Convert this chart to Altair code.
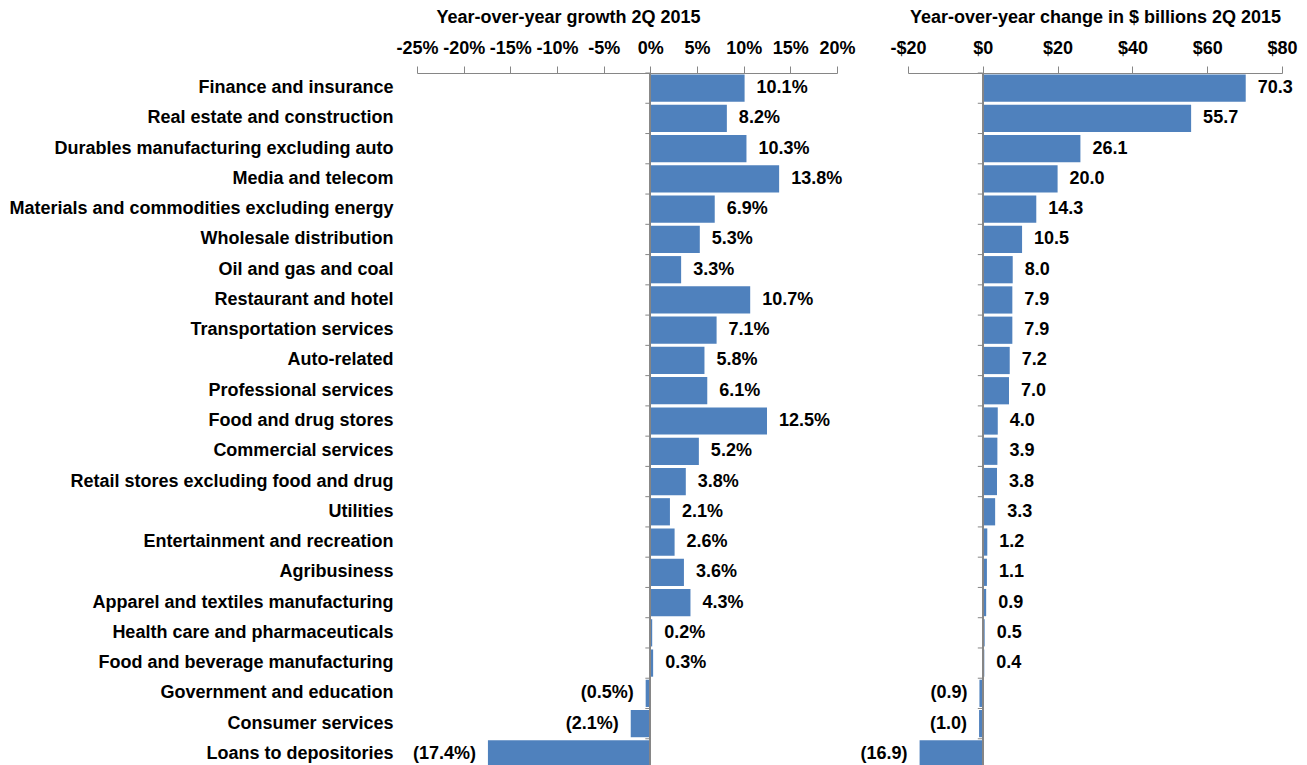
import altair as alt
import pandas as pd

categories = [
    "Finance and insurance",
    "Real estate and construction",
    "Durables manufacturing excluding auto",
    "Media and telecom",
    "Materials and commodities excluding energy",
    "Wholesale distribution",
    "Oil and gas and coal",
    "Restaurant and hotel",
    "Transportation services",
    "Auto-related",
    "Professional services",
    "Food and drug stores",
    "Commercial services",
    "Retail stores excluding food and drug",
    "Utilities",
    "Entertainment and recreation",
    "Agribusiness",
    "Apparel and textiles manufacturing",
    "Health care and pharmaceuticals",
    "Food and beverage manufacturing",
    "Government and education",
    "Consumer services",
    "Loans to depositories",
]
growth_pct = [10.1, 8.2, 10.3, 13.8, 6.9, 5.3, 3.3, 10.7, 7.1, 5.8, 6.1, 12.5,
              5.2, 3.8, 2.1, 2.6, 3.6, 4.3, 0.2, 0.3, -0.5, -2.1, -17.4]
change_bn = [70.3, 55.7, 26.1, 20.0, 14.3, 10.5, 8.0, 7.9, 7.9, 7.2, 7.0, 4.0,
             3.9, 3.8, 3.3, 1.2, 1.1, 0.9, 0.5, 0.4, -0.9, -1.0, -16.9]

left_title = "Year-over-year growth 2Q 2015"
right_title = "Year-over-year change in $ billions 2Q 2015"
left_ticks = [-25, -20, -15, -10, -5, 0, 5, 10, 15, 20]
right_ticks = [-20, 0, 20, 40, 60, 80]

df = pd.DataFrame({
    "category": categories,
    "growth": growth_pct,
    "change": change_bn,
})
df["growth_label"] = [f"{v:.1f}%" if v >= 0 else f"({-v:.1f}%)" for v in growth_pct]
df["change_label"] = [f"{v:.1f}" if v >= 0 else f"({-v:.1f})" for v in change_bn]

FONT = "Liberation Sans"
BAR = "#4F81BD"
GRAY = "#868686"
H = 696
FS = 18

ysort = alt.Sort(categories)


def panel(field, label_field, domain, ticks, title, label_expr, width, show_y, title_x=None):
    xaxis_kw = dict(
        orient="top", values=ticks, labelExpr=label_expr, title=title,
        domainColor=GRAY, tickColor=GRAY, tickSize=7, labelPadding=9,
        labelFont=FONT, labelFontSize=FS, labelFontWeight="bold", labelColor="black",
        titleFont=FONT, titleFontSize=FS, titleFontWeight="bold", titleColor="black",
        titlePadding=13, grid=False, labelFlush=False,
    )
    if title_x is not None:
        xaxis_kw["titleX"] = title_x
    x = alt.X(f"{field}:Q", scale=alt.Scale(domain=domain, nice=False, zero=False),
              axis=alt.Axis(**xaxis_kw))
    if show_y:
        yaxis = alt.Axis(title=None, domain=False, ticks=False, labelPadding=24,
                         labelFont=FONT, labelFontSize=FS, labelFontWeight="bold",
                         labelColor="black", minExtent=409, maxExtent=409, labelLimit=600)
    else:
        yaxis = None
    y = alt.Y("category:N", sort=ysort, axis=yaxis,
              scale=alt.Scale(paddingInner=0.1, paddingOuter=0.05))
    base = alt.Chart(df)
    bars = base.mark_bar(color=BAR).encode(x=x, y=y)
    pos = base.transform_filter(f"datum.{field} >= 0").mark_text(
        align="left", dx=12, font=FONT, fontSize=FS, fontWeight="bold", color="black"
    ).encode(x=alt.X(f"{field}:Q"), y=alt.Y("category:N", sort=ysort), text=f"{label_field}:N")
    neg = base.transform_filter(f"datum.{field} < 0").mark_text(
        align="right", dx=-12, font=FONT, fontSize=FS, fontWeight="bold", color="black"
    ).encode(x=alt.X(f"{field}:Q"), y=alt.Y("category:N", sort=ysort), text=f"{label_field}:N")
    zero = alt.Chart(df).mark_rule(color=GRAY, strokeWidth=1).encode(
        x=alt.datum(0), y=alt.value(0), y2=alt.value(H))
    tks = base.mark_rule(color=GRAY, strokeWidth=1, x2Offset=-5, yOffset=-1.5, y2Offset=-1.5).encode(
        x=alt.datum(0), x2=alt.datum(0),
        y=alt.Y("category:N", sort=ysort, bandPosition=0))
    return alt.layer(bars, zero, tks, pos, neg).properties(width=width, height=H)


left = panel("growth", "growth_label", [-25, 20], left_ticks, left_title,
             "datum.value + '%'", 420, True, title_x=151)
right = panel("change", "change_label", [-20, 80], right_ticks, right_title,
              "datum.value < 0 ? '-$' + abs(datum.value) : '$' + datum.value", 374, False)

chart = alt.hconcat(left, right, spacing=71, bounds="flush").properties(padding=0).configure_view(stroke=None)

chart.save("out.html", embed_options={"renderer": "svg", "actions": False})
